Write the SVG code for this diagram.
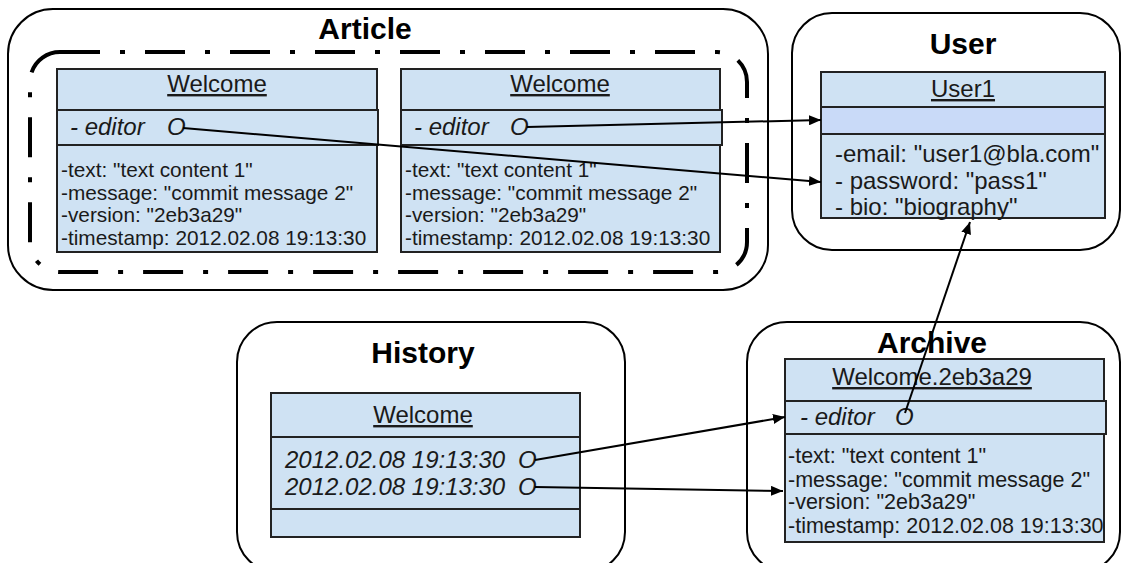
<svg xmlns="http://www.w3.org/2000/svg" width="1123" height="563" viewBox="0 0 1123 563">
  <style>
    .frame { fill: #ffffff; stroke: #000000; stroke-width: 2; }
    .scope { fill: none; stroke: #000000; stroke-width: 4; stroke-dasharray: 40 20 5 20; }
    .box { fill: #cfe2f3; stroke: #222222; stroke-width: 2; }
    .ref { fill: #c9daf8; stroke: #222222; stroke-width: 2; }
    text { font-family: "Liberation Sans", Arial, sans-serif; fill: #1a1a1a; }
    .head { font-size: 30px; font-weight: bold; text-anchor: middle; fill: #000000; }
    .title { font-size: 24px; text-anchor: middle; text-decoration: underline; }
    .field { font-size: 24px; font-style: italic; }
    .attr { font-size: 20.8px; }
    .attr-m { font-size: 21.5px; }
    .attr-l { font-size: 24px; }
    .link { fill: none; stroke: #000000; stroke-width: 2; }
  </style>
  <defs>
    <marker id="arrow" viewBox="0 0 12 10" refX="12" refY="5" markerWidth="12" markerHeight="10" markerUnits="userSpaceOnUse" orient="auto">
      <path d="M0,0 L12,5 L0,10 Z" fill="#000000"/>
    </marker>
  </defs>

  <!-- Article container -->
  <g id="article">
    <rect class="frame" x="8" y="9" width="760" height="281" rx="45"/>
    <rect class="scope" x="30" y="52" width="717" height="220" rx="30"/>
    <text class="head" x="365" y="39">Article</text>
  </g>

  <!-- First revision of Welcome -->
  <g id="welcome-a">
    <rect class="box" x="57" y="69" width="320" height="183"/>
    <rect class="box" x="57" y="110" width="321" height="35"/>
    <text class="title" x="217" y="92">Welcome</text>
    <text class="field" x="70" y="135">- editor</text>
    <text class="field" x="167" y="135">O</text>
    <text class="attr" x="61" y="177">-text: "text content 1"</text>
    <text class="attr" x="61" y="200">-message: "commit message 2"</text>
    <text class="attr" x="61" y="222">-version: "2eb3a29"</text>
    <text class="attr" x="61" y="245">-timestamp: 2012.02.08 19:13:30</text>
  </g>

  <!-- Second revision of Welcome -->
  <g id="welcome-b">
    <rect class="box" x="401" y="69" width="319" height="183"/>
    <rect class="box" x="401" y="110" width="321" height="35"/>
    <text class="title" x="560" y="92">Welcome</text>
    <text class="field" x="414" y="135">- editor</text>
    <text class="field" x="510" y="135">O</text>
    <text class="attr" x="405" y="177">-text: "text content 1"</text>
    <text class="attr" x="405" y="200">-message: "commit message 2"</text>
    <text class="attr" x="405" y="222">-version: "2eb3a29"</text>
    <text class="attr" x="405" y="245">-timestamp: 2012.02.08 19:13:30</text>
  </g>

  <!-- User container -->
  <g id="user">
    <rect class="frame" x="792" y="13" width="328" height="237" rx="40"/>
    <text class="head" x="963" y="54">User</text>
  </g>

  <g id="user1">
    <rect class="box" x="821" y="72" width="284" height="146"/>
    <rect class="ref" x="821" y="107" width="284" height="27"/>
    <text class="title" x="963" y="97">User1</text>
    <text class="attr-l" x="835" y="162">-email: "user1@bla.com"</text>
    <text class="attr-l" x="835" y="189">- password: "pass1"</text>
    <text class="attr-l" x="835" y="215">- bio: "biography"</text>
  </g>

  <!-- History container -->
  <g id="history">
    <rect class="frame" x="237" y="322" width="388" height="250" rx="40"/>
    <text class="head" x="423" y="363">History</text>
  </g>

  <g id="history-welcome">
    <rect class="box" x="271" y="393" width="309" height="144"/>
    <rect class="box" x="271" y="437" width="309" height="72"/>
    <text class="title" x="423" y="423">Welcome</text>
    <text class="field" x="285" y="468">2012.02.08 19:13:30</text>
    <text class="field" x="518" y="468">O</text>
    <text class="field" x="285" y="495">2012.02.08 19:13:30</text>
    <text class="field" x="518" y="495">O</text>
  </g>

  <!-- Archive container -->
  <g id="archive">
    <rect class="frame" x="747" y="322" width="373" height="250" rx="40"/>
    <text class="head" x="932" y="353">Archive</text>
  </g>

  <g id="archive-welcome">
    <rect class="box" x="785" y="359" width="319" height="183"/>
    <rect class="box" x="785" y="401" width="321" height="33"/>
    <text class="title" x="932" y="385">Welcome.2eb3a29</text>
    <text class="field" x="800" y="425">- editor</text>
    <text class="field" x="895" y="425">O</text>
    <text class="attr-m" x="788" y="463">-text: "text content 1"</text>
    <text class="attr-m" x="788" y="487">-message: "commit message 2"</text>
    <text class="attr-m" x="788" y="509">-version: "2eb3a29"</text>
    <text class="attr-m" x="788" y="533">-timestamp: 2012.02.08 19:13:30</text>
  </g>

  <!-- References between objects -->
  <g id="connectors">
    <line class="link" x1="183" y1="128" x2="821" y2="182" marker-end="url(#arrow)"/>
    <line class="link" x1="527" y1="127" x2="821" y2="120" marker-end="url(#arrow)"/>
    <line class="link" x1="905" y1="413" x2="970" y2="222" marker-end="url(#arrow)"/>
    <line class="link" x1="535" y1="460" x2="785" y2="417" marker-end="url(#arrow)"/>
    <line class="link" x1="535" y1="487" x2="783" y2="491" marker-end="url(#arrow)"/>
  </g>
</svg>
